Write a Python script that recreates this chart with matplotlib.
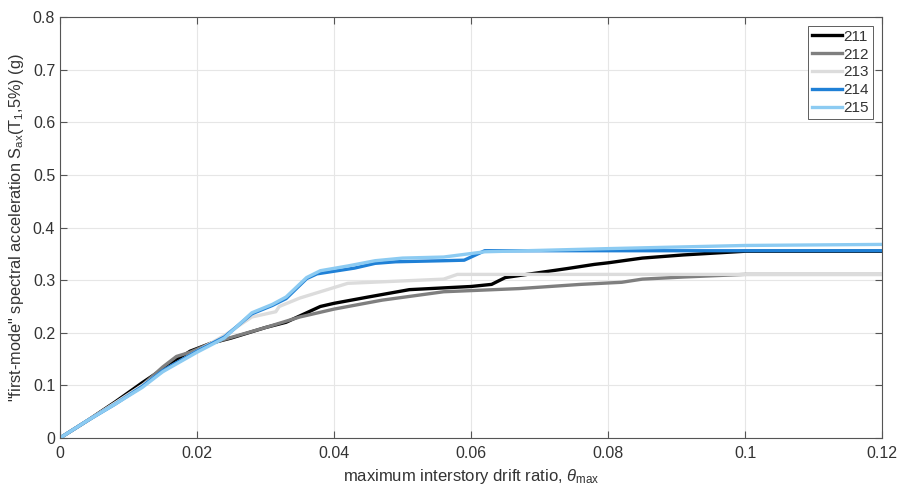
import matplotlib
matplotlib.use("Agg")
import matplotlib.pyplot as plt

plt.rcParams['font.family'] = ['Liberation Sans', 'DejaVu Sans']
plt.rcParams['mathtext.fontset'] = 'custom'
plt.rcParams['mathtext.rm'] = 'Liberation Sans'
plt.rcParams['mathtext.it'] = 'Liberation Sans:italic'

labels = ['211', '212', '213', '214', '215']
colors = ['#000000', '#7f7f7f', '#dcdcdc', '#1f80d6', '#8ccbf2']

x211 = [0, 0.004, 0.008, 0.012, 0.016, 0.019, 0.022, 0.025, 0.03, 0.033, 0.035, 0.038, 0.04, 0.045, 0.051, 0.06, 0.063, 0.065, 0.074, 0.078, 0.08, 0.085, 0.091, 0.1, 0.12]
y211 = [0, 0.033, 0.068, 0.105, 0.14, 0.165, 0.18, 0.19, 0.21, 0.22, 0.232, 0.25, 0.256, 0.268, 0.282, 0.288, 0.292, 0.305, 0.322, 0.33, 0.333, 0.342, 0.348, 0.355, 0.355]

x212 = [0, 0.004, 0.008, 0.012, 0.015, 0.017, 0.019, 0.022, 0.026, 0.03, 0.035, 0.04, 0.047, 0.056, 0.067, 0.076, 0.082, 0.085, 0.091, 0.1, 0.12]
y212 = [0, 0.033, 0.066, 0.1, 0.135, 0.155, 0.163, 0.18, 0.195, 0.21, 0.23, 0.245, 0.262, 0.278, 0.284, 0.292, 0.296, 0.302, 0.306, 0.311, 0.311]

x213 = [0, 0.004, 0.008, 0.012, 0.016, 0.02, 0.024, 0.028, 0.0315, 0.032, 0.035, 0.042, 0.056, 0.058, 0.12]
y213 = [0, 0.033, 0.066, 0.1, 0.135, 0.165, 0.195, 0.23, 0.24, 0.25, 0.266, 0.294, 0.302, 0.311, 0.311]

x214 = [0, 0.004, 0.008, 0.012, 0.015, 0.02, 0.024, 0.028, 0.031, 0.033, 0.036, 0.0375, 0.043, 0.046, 0.049, 0.056, 0.059, 0.062, 0.12]
y214 = [0, 0.033, 0.064, 0.098, 0.128, 0.165, 0.192, 0.236, 0.252, 0.265, 0.303, 0.312, 0.323, 0.332, 0.335, 0.337, 0.338, 0.356, 0.356]

x215 = [0, 0.004, 0.008, 0.012, 0.015, 0.02, 0.024, 0.028, 0.031, 0.033, 0.036, 0.038, 0.042, 0.046, 0.05, 0.056, 0.062, 0.08, 0.1, 0.12]
y215 = [0, 0.033, 0.064, 0.096, 0.126, 0.163, 0.19, 0.238, 0.254, 0.268, 0.305, 0.318, 0.327, 0.337, 0.342, 0.344, 0.354, 0.36, 0.366, 0.368]

series = [(x211, y211), (x212, y212), (x213, y213), (x214, y214), (x215, y215)]

fig = plt.figure(figsize=(9.01, 4.91), dpi=100)
ax = fig.add_axes([0.0666, 0.108, 0.9124, 0.857])

for (xs, ys), lab, c in zip(series, labels, colors):
    ax.plot(xs, ys, color=c, lw=2.4, label=lab)

ax.set_xlim(0, 0.12)
ax.set_ylim(0, 0.8)
ax.set_xticks([0, 0.02, 0.04, 0.06, 0.08, 0.1, 0.12])
ax.set_xticklabels(['0', '0.02', '0.04', '0.06', '0.08', '0.1', '0.12'])
ax.set_yticks([0, 0.1, 0.2, 0.3, 0.4, 0.5, 0.6, 0.7, 0.8])
ax.set_yticklabels(['0', '0.1', '0.2', '0.3', '0.4', '0.5', '0.6', '0.7', '0.8'])
ax.grid(True, color='#e6e6e6', lw=0.8)
ax.set_axisbelow(True)
ax.tick_params(direction='in', length=5, width=0.8, colors='#555555', labelcolor='#333333', labelsize=11.5,
               top=True, right=True, labeltop=False, labelright=False)
ax.tick_params(axis='x', pad=6)
for s in ax.spines.values():
    s.set_color('#555555')
    s.set_linewidth(0.8)

ax.set_xlabel(r'maximum interstory drift ratio, $\theta_{\rm max}$', fontsize=12, color='#333333', labelpad=4)
ax.set_ylabel(r'"first-mode" spectral acceleration S$_{\rm ax}$(T$_{\rm 1}$,5%) (g)', fontsize=11.8, color='#333333', labelpad=5)

leg = ax.legend(loc='upper right', bbox_to_anchor=(0.989, 0.979), fontsize=11, handlelength=2.0, handletextpad=0.1,
                labelspacing=0.25, borderpad=0.25, borderaxespad=0.0, fancybox=False, framealpha=1, edgecolor='#444444')
leg.get_frame().set_linewidth(0.6)
for t in leg.get_texts():
    t.set_color('#333333')

fig.savefig('out.png', dpi=100)
